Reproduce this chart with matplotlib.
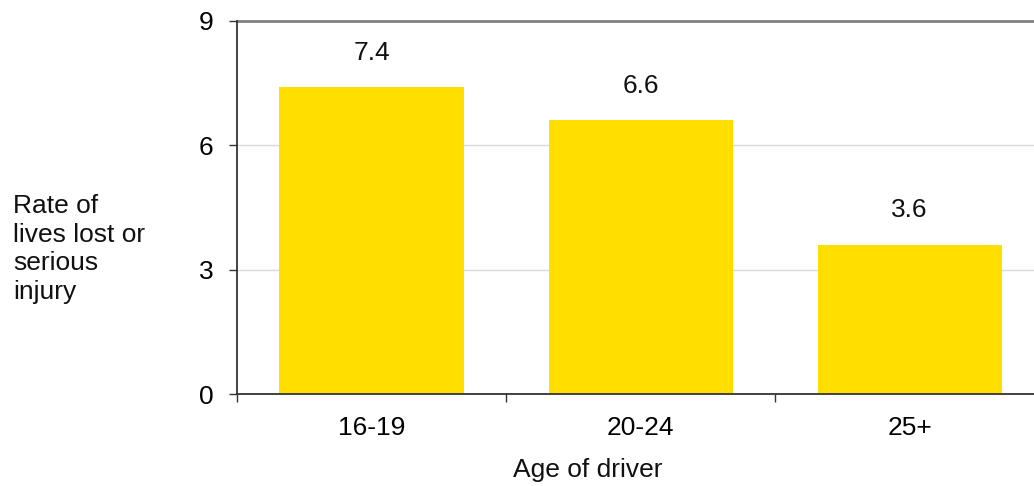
import numpy as np
import matplotlib.pyplot as plt

plt.rcParams['font.family'] = ['Liberation Sans', 'DejaVu Sans']

# Rate of lives lost or serious injury by driver age group
ages = ['16-19', '20-24', '25+']
rates = [7.4, 6.6, 3.6]
yticks = [0, 3, 6, 9]

bar_color = '#FFDE00'
fs = 19

fig = plt.figure(figsize=(10.34, 4.86), dpi=100)
ax = fig.add_axes([0.2292, 0.1893, 0.7805, 0.7675])

x = np.arange(len(ages))
ax.bar(x, rates, width=0.684, color=bar_color, zorder=2)

# value labels above each bar
for xi, v in zip(x, rates):
    ax.annotate('{:.1f}'.format(v), (xi, v), xytext=(0, 20), textcoords='offset points',
                ha='center', va='baseline', fontsize=fs, color='#111111')

ax.set_xlim(-0.5, len(ages) - 0.5)
ax.set_ylim(0, 9)
ax.set_yticks(yticks)
ax.set_yticklabels([str(t) for t in yticks], fontsize=fs)

# category labels centred, tick marks on the boundaries
ax.set_xticks(x)
ax.set_xticklabels(ages, fontsize=fs)
ax.tick_params(axis='x', which='major', length=0, pad=16)
ax.set_xticks(np.arange(len(ages) + 1) - 0.5, minor=True)
ax.tick_params(axis='x', which='minor', length=6, width=1, color='#333333', direction='out')
ax.tick_params(axis='y', length=6, width=1, color='#333333', pad=11)

ax.grid(axis='y', color='#d9d9d9', linewidth=1, zorder=0)
ax.set_axisbelow(True)

for s in ['left', 'bottom']:
    ax.spines[s].set_color('#333333')
    ax.spines[s].set_linewidth(1.3)
    ax.spines[s].set_zorder(3)
ax.spines['top'].set_color('#808080')
ax.spines['top'].set_linewidth(2)
ax.spines['right'].set_visible(False)

fig.text(13 / 1034, 0.4877, 'Rate of\nlives lost or\nserious\ninjury', ha='left', va='center',
         fontsize=fs, linespacing=1.24, color='#111111')
fig.text(588 / 1034, (486 - 470) / 486, 'Age of driver', ha='center', va='center',
         fontsize=fs, color='#111111')

fig.savefig('out.png', dpi=100)
